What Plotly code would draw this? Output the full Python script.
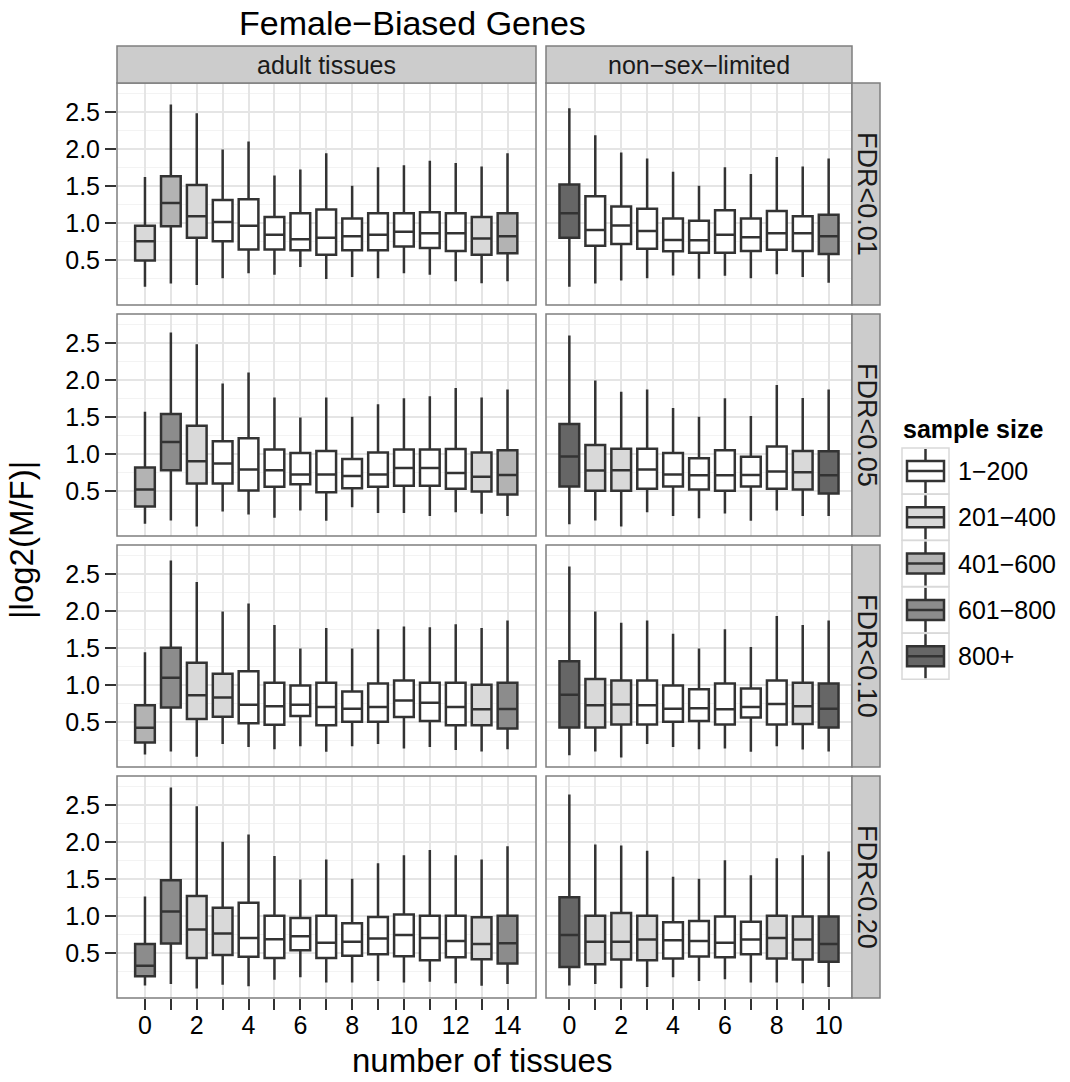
import plotly.graph_objects as go

# ---------------- data ----------------
size_levels = ["1\u2212200", "201\u2212400", "401\u2212600", "601\u2212800", "800+"]
size_colors = ["#FFFFFF", "#D9D9D9", "#B3B3B3", "#8C8C8C", "#666666"]

column_labels = ["adult tissues", "non\u2212sex\u2212limited"]
row_labels = ["FDR<0.01", "FDR<0.05", "FDR<0.10", "FDR<0.20"]

adult_tissues = list(range(15))
nsl_tissues = list(range(11))

# FDR<0.01, adult tissues
a01_lo = [0.135, 0.18, 0.16, 0.25, 0.32, 0.30, 0.405, 0.24, 0.27, 0.25, 0.32, 0.30, 0.21, 0.185, 0.21]
a01_q1 = [0.49, 0.955, 0.80, 0.75, 0.64, 0.64, 0.63, 0.57, 0.63, 0.63, 0.68, 0.66, 0.62, 0.57, 0.59]
a01_md = [0.75, 1.27, 1.09, 1.01, 0.96, 0.84, 0.78, 0.80, 0.82, 0.84, 0.88, 0.86, 0.86, 0.79, 0.82]
a01_q3 = [0.96, 1.63, 1.51, 1.31, 1.32, 1.08, 1.13, 1.18, 1.06, 1.13, 1.13, 1.145, 1.13, 1.08, 1.13]
a01_hi = [1.62, 2.60, 2.48, 1.99, 2.10, 1.64, 1.72, 1.94, 1.50, 1.75, 1.78, 1.84, 1.81, 1.76, 1.94]
a01_sz = [1, 2, 1, 0, 0, 0, 0, 0, 0, 0, 0, 0, 0, 1, 2]

# FDR<0.01, non-sex-limited
n01_lo = [0.135, 0.18, 0.22, 0.25, 0.29, 0.245, 0.284, 0.25, 0.305, 0.27, 0.19]
n01_q1 = [0.80, 0.69, 0.716, 0.65, 0.615, 0.595, 0.595, 0.62, 0.635, 0.62, 0.58]
n01_md = [1.13, 0.905, 0.965, 0.89, 0.77, 0.765, 0.84, 0.805, 0.86, 0.86, 0.82]
n01_q3 = [1.52, 1.36, 1.22, 1.19, 1.06, 1.03, 1.17, 1.06, 1.16, 1.09, 1.11]
n01_hi = [2.55, 2.185, 1.95, 1.87, 1.69, 1.50, 1.75, 1.66, 1.89, 1.76, 1.87]
n01_sz = [4, 0, 0, 0, 0, 0, 0, 0, 0, 0, 3]

# FDR<0.05, adult tissues
a05_lo = [0.054, 0.10, 0.02, 0.22, 0.18, 0.135, 0.235, 0.095, 0.28, 0.20, 0.20, 0.16, 0.21, 0.19, 0.16]
a05_q1 = [0.29, 0.78, 0.60, 0.60, 0.505, 0.554, 0.59, 0.48, 0.536, 0.554, 0.57, 0.57, 0.53, 0.49, 0.45]
a05_md = [0.52, 1.16, 0.90, 0.87, 0.79, 0.78, 0.72, 0.72, 0.70, 0.72, 0.81, 0.81, 0.74, 0.69, 0.716]
a05_q3 = [0.816, 1.54, 1.38, 1.17, 1.21, 1.06, 1.01, 1.04, 0.93, 1.02, 1.06, 1.06, 1.065, 1.02, 1.05]
a05_hi = [1.57, 2.64, 2.48, 1.95, 2.10, 1.76, 1.49, 1.76, 1.50, 1.67, 1.75, 1.78, 1.89, 1.76, 1.87]
a05_sz = [2, 3, 1, 0, 0, 0, 0, 0, 0, 0, 0, 0, 0, 1, 2]

# FDR<0.05, non-sex-limited
n05_lo = [0.05, 0.10, 0.02, 0.21, 0.16, 0.13, 0.195, 0.095, 0.235, 0.16, 0.16]
n05_q1 = [0.56, 0.50, 0.50, 0.53, 0.56, 0.52, 0.50, 0.56, 0.53, 0.52, 0.465]
n05_md = [0.965, 0.775, 0.78, 0.79, 0.72, 0.71, 0.71, 0.715, 0.76, 0.75, 0.71]
n05_q3 = [1.405, 1.12, 1.07, 1.07, 1.01, 0.94, 1.05, 0.96, 1.10, 1.04, 1.035]
n05_hi = [2.60, 1.99, 1.84, 1.87, 1.62, 1.50, 1.75, 1.51, 1.93, 1.755, 1.87]
n05_sz = [4, 1, 1, 0, 0, 0, 0, 0, 0, 1, 4]

# FDR<0.10, adult tissues
a10_lo = [0.06, 0.10, 0.03, 0.20, 0.16, 0.13, 0.17, 0.095, 0.17, 0.20, 0.14, 0.16, 0.12, 0.10, 0.13]
a10_q1 = [0.22, 0.695, 0.54, 0.57, 0.48, 0.46, 0.58, 0.455, 0.50, 0.50, 0.564, 0.51, 0.455, 0.455, 0.41]
a10_md = [0.42, 1.095, 0.86, 0.83, 0.73, 0.71, 0.73, 0.70, 0.676, 0.70, 0.79, 0.757, 0.70, 0.67, 0.675]
a10_q3 = [0.725, 1.50, 1.30, 1.15, 1.185, 1.03, 0.99, 1.03, 0.91, 1.02, 1.06, 1.03, 1.03, 1.00, 1.03]
a10_hi = [1.44, 2.68, 2.39, 1.99, 2.10, 1.81, 1.49, 1.77, 1.49, 1.75, 1.79, 1.78, 1.82, 1.77, 1.87]
a10_sz = [2, 3, 1, 1, 0, 0, 0, 0, 0, 0, 0, 0, 0, 1, 3]

# FDR<0.10, non-sex-limited
n10_lo = [0.05, 0.10, 0.02, 0.20, 0.16, 0.13, 0.14, 0.095, 0.17, 0.125, 0.10]
n10_q1 = [0.424, 0.424, 0.465, 0.465, 0.50, 0.51, 0.465, 0.56, 0.465, 0.47, 0.424]
n10_md = [0.865, 0.725, 0.735, 0.725, 0.676, 0.685, 0.67, 0.70, 0.74, 0.71, 0.676]
n10_q3 = [1.32, 1.08, 1.06, 1.06, 0.99, 0.94, 1.02, 0.95, 1.06, 1.03, 1.02]
n10_hi = [2.60, 1.99, 1.84, 1.87, 1.69, 1.49, 1.75, 1.51, 1.93, 1.81, 1.87]
n10_sz = [4, 1, 1, 0, 0, 0, 0, 0, 0, 1, 4]

# FDR<0.20, adult tissues
a20_lo = [0.06, 0.08, 0.02, 0.07, 0.05, 0.135, 0.17, 0.10, 0.10, 0.12, 0.10, 0.11, 0.09, 0.055, 0.08]
a20_q1 = [0.185, 0.627, 0.43, 0.47, 0.446, 0.43, 0.536, 0.43, 0.46, 0.48, 0.455, 0.40, 0.44, 0.415, 0.357]
a20_md = [0.325, 1.06, 0.816, 0.76, 0.70, 0.685, 0.725, 0.635, 0.65, 0.695, 0.743, 0.70, 0.66, 0.62, 0.63]
a20_q3 = [0.62, 1.48, 1.27, 1.11, 1.176, 1.0, 0.97, 1.0, 0.90, 0.986, 1.02, 1.0, 1.0, 0.98, 1.0]
a20_hi = [1.26, 2.735, 2.48, 2.0, 2.10, 1.81, 1.49, 1.76, 1.50, 1.71, 1.82, 1.89, 1.82, 1.76, 1.94]
a20_sz = [3, 3, 1, 1, 0, 0, 0, 0, 0, 0, 0, 0, 0, 1, 3]

# FDR<0.20, non-sex-limited
n20_lo = [0.06, 0.08, 0.023, 0.04, 0.17, 0.12, 0.145, 0.10, 0.10, 0.09, 0.04]
n20_q1 = [0.31, 0.347, 0.41, 0.40, 0.424, 0.45, 0.44, 0.482, 0.424, 0.41, 0.38]
n20_md = [0.743, 0.65, 0.65, 0.68, 0.67, 0.66, 0.635, 0.68, 0.70, 0.68, 0.62]
n20_q3 = [1.25, 1.0, 1.04, 1.0, 0.915, 0.93, 0.99, 0.92, 1.0, 0.99, 0.99]
n20_hi = [2.64, 1.965, 1.95, 1.88, 1.53, 1.50, 1.75, 1.55, 1.78, 1.82, 1.87]
n20_sz = [4, 1, 1, 1, 0, 0, 0, 0, 1, 1, 4]

y_tick_vals = [0.5, 1.0, 1.5, 2.0, 2.5]
y_tick_text = ["0.5", "1.0", "1.5", "2.0", "2.5"]
y_minor_vals = [0.25, 0.75, 1.25, 1.75, 2.25, 2.75]

panels = {
    (0, 0): (adult_tissues, a01_lo, a01_q1, a01_md, a01_q3, a01_hi, a01_sz),
    (0, 1): (nsl_tissues, n01_lo, n01_q1, n01_md, n01_q3, n01_hi, n01_sz),
    (1, 0): (adult_tissues, a05_lo, a05_q1, a05_md, a05_q3, a05_hi, a05_sz),
    (1, 1): (nsl_tissues, n05_lo, n05_q1, n05_md, n05_q3, n05_hi, n05_sz),
    (2, 0): (adult_tissues, a10_lo, a10_q1, a10_md, a10_q3, a10_hi, a10_sz),
    (2, 1): (nsl_tissues, n10_lo, n10_q1, n10_md, n10_q3, n10_hi, n10_sz),
    (3, 0): (adult_tissues, a20_lo, a20_q1, a20_md, a20_q3, a20_hi, a20_sz),
    (3, 1): (nsl_tissues, n20_lo, n20_q1, n20_md, n20_q3, n20_hi, n20_sz),
}

# ---------------- layout geometry ----------------
W, H = 1070, 1082
FONT = "Liberation Sans, Arial, Helvetica, sans-serif"
EDGE = "#333333"
BORDER = "#7F7F7F"


def px(x):
    return x / W


def py(y):
    return 1 - y / H


col_px = [(117, 536), (546, 852)]
row_px = [(83, 305), (314, 536), (545, 767), (776, 998)]
x_ranges = [[-1.08, 15.1], [-0.9, 10.9]]
y_range = [-0.11, 2.89]

fig = go.Figure()
layout_axes = {}
shapes = []
annotations = []

for (r, c), (xs, lo, q1, md, q3, hi, sz) in panels.items():
    i = r * 2 + c + 1
    xa = "x" if i == 1 else f"x{i}"
    ya = "y" if i == 1 else f"y{i}"
    for k, color in enumerate(size_colors):
        idx = [j for j in range(len(xs)) if sz[j] == k]
        if not idx:
            continue
        fig.add_trace(go.Box(
            x=[xs[j] for j in idx],
            lowerfence=[lo[j] for j in idx],
            q1=[q1[j] for j in idx],
            median=[md[j] for j in idx],
            q3=[q3[j] for j in idx],
            upperfence=[hi[j] for j in idx],
            xaxis=xa, yaxis=ya,
            orientation="v",
            fillcolor=color,
            line=dict(color=EDGE, width=2.5),
            whiskerwidth=0,
            width=0.76,
            boxpoints=False,
            showlegend=False,
            hoverinfo="skip",
            name=size_levels[k],
        ))

    bottom = r == 3
    left = c == 0
    ticks_x = list(xs)
    layout_axes["xaxis" if i == 1 else f"xaxis{i}"] = dict(
        domain=[px(col_px[c][0]), px(col_px[c][1])],
        range=x_ranges[c],
        anchor=ya,
        tickmode="array",
        tickvals=ticks_x,
        ticktext=[str(v) if v % 2 == 0 else "" for v in ticks_x],
        showticklabels=bottom,
        ticks="outside" if bottom else "",
        ticklen=11, tickwidth=1.5, tickcolor=EDGE,
        ticklabelstandoff=-6,
        tickfont=dict(family=FONT, size=25, color="#000000"),
        showgrid=True, gridcolor="#E5E5E5", gridwidth=1.5,
        zeroline=False, showline=False, fixedrange=True,
    )
    layout_axes["yaxis" if i == 1 else f"yaxis{i}"] = dict(
        domain=[py(row_px[r][1]), py(row_px[r][0])],
        range=y_range,
        anchor=xa,
        tickmode="array",
        tickvals=y_tick_vals,
        ticktext=y_tick_text,
        showticklabels=left,
        ticks="outside" if left else "",
        ticklen=11, tickwidth=1.5, tickcolor=EDGE,
        tickfont=dict(family=FONT, size=25, color="#000000"),
        showgrid=True, gridcolor="#E5E5E5", gridwidth=1.5,
        minor=dict(tickvals=y_minor_vals, showgrid=True, gridcolor="#F3F3F3",
                   gridwidth=1.2, ticks=""),
        zeroline=False, showline=False, fixedrange=True,
    )
    # panel border
    shapes.append(dict(type="rect", xref=f"{xa} domain", yref=f"{ya} domain",
                       x0=0, x1=1, y0=0, y1=1, layer="above",
                       line=dict(color=BORDER, width=1.5), fillcolor="rgba(0,0,0,0)"))

# top strips
for c, lab in enumerate(column_labels):
    x0, x1 = col_px[c]
    shapes.append(dict(type="rect", xref="paper", yref="paper",
                       x0=px(x0), x1=px(x1), y0=py(83), y1=py(46),
                       fillcolor="#CCCCCC", line=dict(color=BORDER, width=1.5), layer="above"))
    annotations.append(dict(text=lab, xref="paper", yref="paper",
                            x=px((x0 + x1) / 2), y=py(65), showarrow=False,
                            xanchor="center", yanchor="middle",
                            font=dict(family=FONT, size=25, color="#1A1A1A")))

# right strips
for r, lab in enumerate(row_labels):
    y0, y1 = row_px[r]
    shapes.append(dict(type="rect", xref="paper", yref="paper",
                       x0=px(852), x1=px(880), y0=py(y1), y1=py(y0),
                       fillcolor="#CCCCCC", line=dict(color=BORDER, width=1.5), layer="above"))
    annotations.append(dict(text=lab, xref="paper", yref="paper",
                            x=px(867), y=py((y0 + y1) / 2), showarrow=False,
                            textangle=90, xanchor="center", yanchor="middle",
                            font=dict(family=FONT, size=27, color="#1A1A1A")))

# titles
annotations.append(dict(text="Female\u2212Biased Genes", xref="paper", yref="paper",
                        x=px(412), y=py(23), showarrow=False, xanchor="center", yanchor="middle",
                        font=dict(family=FONT, size=34, color="#000000")))
annotations.append(dict(text="number of tissues", xref="paper", yref="paper",
                        x=px(482), y=py(1060), showarrow=False, xanchor="center", yanchor="middle",
                        font=dict(family=FONT, size=33, color="#000000")))
annotations.append(dict(text="|log2(M/F)|", xref="paper", yref="paper",
                        x=px(21), y=py(540), showarrow=False, textangle=-90,
                        xanchor="center", yanchor="middle",
                        font=dict(family=FONT, size=33, color="#000000")))

# legend (drawn as key glyphs)
annotations.append(dict(text="<b>sample size</b>", xref="paper", yref="paper",
                        x=px(901), y=py(429), showarrow=False, xanchor="left", yanchor="middle",
                        font=dict(family=FONT, size=25, color="#000000")))
key_step = 46.3
for k, (lab, color) in enumerate(zip(size_levels, size_colors)):
    cy = 471 + key_step * k
    shapes.append(dict(type="rect", xref="paper", yref="paper",
                       x0=px(902), x1=px(949), y0=py(cy + 23), y1=py(cy - 23),
                       fillcolor="#FFFFFF", line=dict(color="#D9D9D9", width=1.5)))
    shapes.append(dict(type="line", xref="paper", yref="paper",
                       x0=px(925.5), x1=px(925.5), y0=py(cy + 22), y1=py(cy - 22),
                       line=dict(color=EDGE, width=2.5)))
    shapes.append(dict(type="rect", xref="paper", yref="paper",
                       x0=px(907), x1=px(944), y0=py(cy + 10), y1=py(cy - 10),
                       fillcolor=color, line=dict(color=EDGE, width=2.5)))
    shapes.append(dict(type="line", xref="paper", yref="paper",
                       x0=px(907), x1=px(944), y0=py(cy), y1=py(cy),
                       line=dict(color=EDGE, width=2.5)))
    annotations.append(dict(text=lab, xref="paper", yref="paper",
                            x=px(956), y=py(cy), showarrow=False, xanchor="left", yanchor="middle",
                            font=dict(family=FONT, size=25, color="#000000")))

fig.update_layout(
    width=W, height=H, autosize=False,
    margin=dict(l=0, r=0, t=0, b=0),
    paper_bgcolor="#FFFFFF", plot_bgcolor="#FFFFFF",
    boxmode="overlay",
    showlegend=False,
    shapes=shapes,
    annotations=annotations,
    font=dict(family=FONT),
    **layout_axes,
)

fig.write_html("out.html")
